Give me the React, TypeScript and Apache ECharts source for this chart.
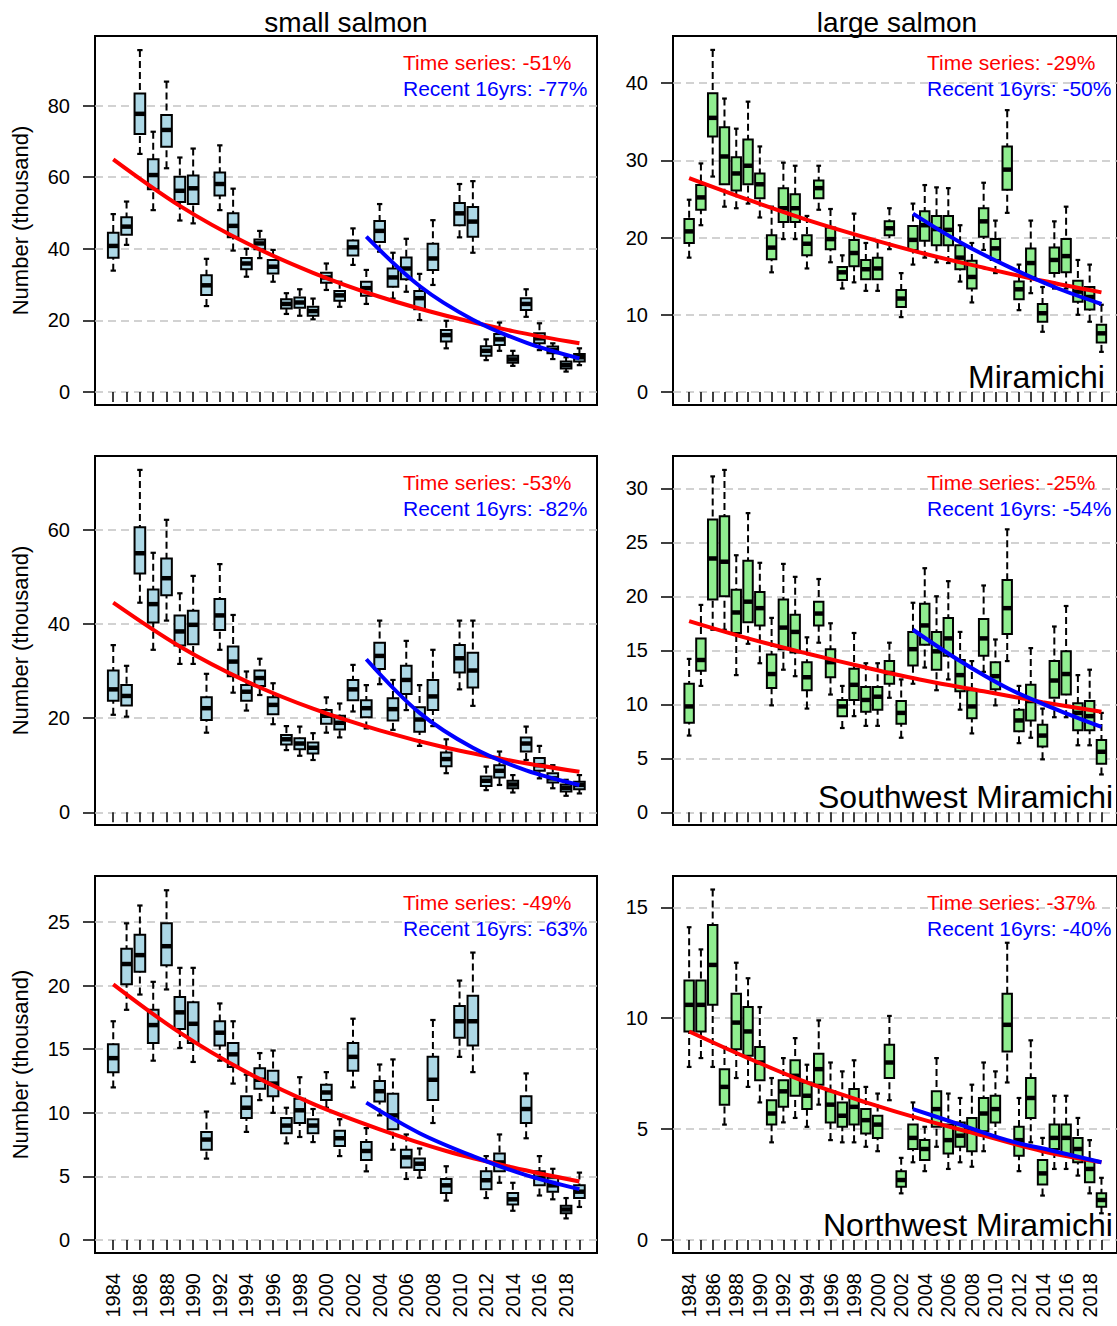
import React, { useEffect, useRef } from "react";
import * as echarts from "echarts";

const FONT = "'Liberation Sans', Arial, Helvetica, sans-serif";

const years = [1984, 1985, 1986, 1987, 1988, 1989, 1990, 1991, 1992, 1993, 1994, 1995, 1996, 1997, 1998, 1999, 2000, 2001, 2002, 2003, 2004, 2005, 2006, 2007, 2008, 2009, 2010, 2011, 2012, 2013, 2014, 2015, 2016, 2017, 2018, 2019];
const yearLabels = [1984, 1986, 1988, 1990, 1992, 1994, 1996, 1998, 2000, 2002, 2004, 2006, 2008, 2010, 2012, 2014, 2016, 2018];

// [lower whisker, Q1, median, Q3, upper whisker] per year
const smallMiramichi = [
  [33.9, 37.5, 40.8, 44.5, 49.7], [41.1, 43.9, 46.2, 48.8, 53.2], [66.5, 72.1, 77.7, 83.4, 95.5], [50.8, 56.6, 60.6, 65.0, 72.7],
  [62.5, 68.5, 73.2, 77.4, 86.7], [47.9, 53.1, 56.2, 60.1, 65.5], [47.1, 52.5, 56.9, 60.5, 68.0], [24.0, 27.1, 29.8, 32.6, 37.2],
  [50.8, 54.9, 58.1, 61.3, 68.9], [39.5, 43.2, 46.4, 49.9, 56.8], [32.2, 34.3, 35.9, 37.4, 40.0], [37.4, 39.9, 41.5, 42.6, 45.0],
  [30.8, 33.1, 35.0, 36.9, 39.7], [21.8, 23.3, 24.6, 25.9, 27.6], [21.3, 23.5, 25.0, 26.4, 28.7], [20.3, 21.3, 22.6, 23.8, 26.1],
  [28.5, 30.5, 32.0, 33.3, 35.9], [23.8, 25.5, 27.0, 28.2, 30.8], [35.5, 38.1, 40.4, 42.3, 45.7], [24.6, 26.9, 29.0, 30.8, 34.1],
  [39.2, 41.9, 45.0, 47.8, 52.5], [26.1, 29.4, 32.0, 34.5, 38.9], [28.0, 31.5, 34.5, 37.6, 42.8], [20.1, 23.1, 26.2, 28.2, 33.0],
  [29.9, 34.1, 37.3, 41.4, 48.0], [12.2, 14.1, 15.9, 17.3, 19.9], [43.2, 46.6, 49.9, 52.8, 58.1], [38.9, 43.4, 47.6, 51.7, 58.9],
  [8.9, 10.1, 11.5, 12.8, 14.7], [11.5, 13.1, 14.7, 16.2, 19.4], [7.3, 8.2, 9.1, 10.1, 11.5], [21.0, 22.9, 24.6, 26.2, 28.7],
  [11.7, 13.6, 15.0, 16.4, 19.2], [9.2, 10.8, 11.7, 12.7, 13.6], [5.7, 6.6, 7.5, 8.5, 9.7], [7.5, 8.5, 9.7, 10.6, 12.2],
];
const largeMiramichi = [
  [17.4, 19.3, 20.8, 22.4, 24.9], [21.6, 23.6, 25.2, 26.8, 29.6], [27.9, 33.1, 35.5, 38.7, 44.3], [24.0, 26.9, 30.5, 34.3, 38.0],
  [23.8, 26.1, 28.3, 30.4, 34.1], [24.4, 26.9, 29.3, 32.7, 37.6], [22.6, 25.1, 26.9, 28.3, 31.8], [15.5, 17.2, 18.7, 20.3, 24.0],
  [19.8, 22.0, 23.8, 26.4, 29.7], [19.8, 22.0, 23.8, 25.6, 29.3], [16.0, 17.7, 19.2, 20.3, 22.8], [23.6, 25.1, 26.4, 27.4, 29.3],
  [16.8, 18.5, 19.8, 21.3, 23.7], [13.4, 14.5, 15.5, 16.2, 17.7], [14.2, 16.3, 18.0, 19.7, 23.1], [13.1, 14.6, 15.9, 17.1, 19.3],
  [13.1, 14.6, 16.0, 17.4, 19.5], [18.5, 20.3, 21.2, 22.1, 23.8], [9.7, 11.0, 12.1, 13.2, 15.4], [16.5, 18.4, 19.7, 21.5, 24.4],
  [17.4, 19.6, 21.6, 23.4, 26.8], [16.8, 19.0, 21.1, 22.8, 26.5], [16.7, 19.0, 21.0, 22.8, 26.4], [14.3, 15.9, 17.4, 19.0, 21.6],
  [11.6, 13.4, 14.9, 17.0, 19.3], [18.4, 20.1, 22.1, 23.8, 27.1], [15.4, 17.1, 18.6, 19.8, 22.2], [23.2, 26.2, 28.8, 31.8, 36.5],
  [10.6, 12.0, 13.3, 14.3, 16.5], [12.8, 14.9, 16.7, 18.6, 22.2], [7.8, 9.1, 10.2, 11.4, 13.6], [13.4, 15.4, 17.1, 18.7, 22.1],
  [13.4, 15.5, 17.6, 19.8, 24.0], [10.0, 11.7, 13.0, 14.4, 17.1], [9.1, 10.7, 12.3, 13.6, 16.5], [5.2, 6.4, 7.6, 8.7, 11.3],
];
const smallSouthwest = [
  [20.7, 23.7, 26.1, 30.1, 35.5], [20.3, 22.7, 24.7, 27.0, 31.1], [44.5, 50.7, 55.0, 60.5, 72.7], [34.5, 40.3, 44.2, 47.3, 55.1],
  [40.7, 46.1, 49.7, 53.9, 62.1], [31.5, 35.4, 38.4, 41.8, 46.5], [31.5, 35.7, 39.8, 42.8, 50.2], [16.9, 19.6, 22.1, 24.4, 29.4],
  [34.5, 38.7, 41.8, 45.3, 52.7], [25.4, 28.9, 32.0, 35.2, 41.9], [21.6, 23.7, 25.6, 27.0, 29.9], [24.9, 26.8, 28.5, 30.1, 32.6],
  [18.7, 20.8, 22.8, 24.4, 27.4], [13.2, 14.4, 15.5, 16.4, 18.3], [12.0, 13.4, 14.6, 15.7, 18.2], [11.1, 12.5, 13.7, 14.8, 16.8],
  [16.9, 18.8, 20.5, 21.7, 24.4], [15.9, 17.6, 19.0, 20.5, 23.1], [21.4, 23.8, 26.1, 28.1, 31.3], [17.8, 20.2, 22.1, 23.8, 27.0],
  [27.2, 30.4, 33.2, 36.0, 40.7], [17.5, 19.5, 21.9, 24.2, 28.1], [21.7, 25.1, 28.1, 31.1, 36.4], [14.1, 17.1, 19.7, 22.3, 27.0],
  [18.3, 21.7, 24.6, 28.1, 34.5], [8.3, 9.8, 11.3, 12.7, 15.5], [26.1, 29.7, 32.7, 35.5, 40.7], [22.6, 26.5, 30.1, 33.9, 40.7],
  [4.7, 5.6, 6.7, 7.6, 9.7], [5.8, 7.4, 8.8, 10.0, 12.9], [4.2, 5.1, 5.9, 6.7, 7.9], [11.1, 12.9, 14.6, 15.9, 18.2],
  [7.2, 8.8, 10.0, 11.5, 14.1], [5.1, 6.3, 7.2, 8.3, 10.0], [3.5, 4.4, 5.2, 5.9, 6.9], [4.0, 4.9, 5.8, 6.5, 7.9],
];
const largeSouthwest = [
  [7.1, 8.3, 9.8, 11.9, 14.2], [11.7, 13.1, 14.1, 16.1, 19.2], [16.9, 19.7, 23.5, 27.1, 31.1], [16.9, 20.0, 23.2, 27.4, 31.7],
  [12.7, 16.6, 18.5, 20.6, 23.8], [15.6, 17.6, 19.5, 23.3, 27.7], [13.8, 17.3, 18.9, 20.4, 23.1], [9.9, 11.5, 12.8, 14.6, 18.0],
  [13.2, 15.1, 17.1, 19.7, 23.0], [12.6, 14.8, 16.7, 18.3, 21.8], [9.6, 11.3, 12.5, 13.9, 16.2], [15.7, 17.3, 18.4, 19.5, 21.6],
  [10.9, 12.5, 13.9, 15.1, 17.5], [7.8, 8.9, 9.8, 10.4, 11.7], [8.9, 10.4, 11.8, 13.3, 16.6], [8.0, 9.3, 10.4, 11.6, 13.8],
  [8.0, 9.5, 10.7, 11.6, 13.8], [10.6, 11.9, 12.9, 14.0, 15.7], [6.9, 8.2, 9.2, 10.3, 12.3], [11.9, 13.6, 15.1, 16.7, 19.4],
  [13.4, 15.5, 17.3, 19.3, 22.6], [11.3, 13.2, 14.9, 16.7, 20.0], [12.3, 14.5, 16.1, 18.0, 21.4], [9.5, 11.2, 12.7, 14.1, 16.7],
  [7.3, 8.7, 9.8, 11.3, 14.0], [13.0, 14.5, 16.1, 17.9, 21.0], [9.9, 11.4, 12.6, 13.9, 16.0], [14.0, 16.5, 18.9, 21.5, 26.2],
  [6.4, 7.5, 8.5, 9.5, 11.7], [6.9, 8.5, 10.3, 11.8, 15.2], [4.9, 6.1, 7.1, 8.1, 9.6], [8.8, 10.6, 12.2, 14.0, 17.2],
  [8.8, 10.9, 12.8, 14.9, 19.1], [6.2, 7.6, 9.2, 10.1, 12.7], [6.2, 7.6, 8.9, 10.3, 13.2], [3.5, 4.5, 5.6, 6.7, 9.2],
];
const smallNorthwest = [
  [12.0, 13.2, 14.3, 15.4, 17.2], [18.1, 20.1, 21.7, 22.9, 24.9], [19.3, 21.1, 22.4, 24.0, 26.3], [14.1, 15.5, 16.9, 18.1, 20.3],
  [19.7, 21.6, 23.1, 24.9, 27.5], [15.1, 16.6, 17.9, 19.1, 21.4], [14.0, 15.5, 17.0, 18.7, 21.4], [6.4, 7.1, 7.9, 8.5, 10.1],
  [14.1, 15.3, 16.3, 17.2, 18.6], [12.3, 13.6, 14.6, 15.5, 17.2], [8.5, 9.6, 10.4, 11.3, 13.0], [11.0, 11.9, 12.6, 13.5, 14.7],
  [10.0, 11.3, 12.3, 13.3, 14.9], [7.6, 8.4, 9.0, 9.6, 10.4], [8.1, 9.2, 10.2, 11.1, 12.8], [7.7, 8.4, 9.0, 9.5, 10.3],
  [10.4, 11.0, 11.6, 12.2, 13.2], [6.6, 7.4, 8.0, 8.6, 9.5], [12.0, 13.3, 14.4, 15.5, 17.4], [5.4, 6.3, 7.0, 7.7, 8.8],
  [9.8, 10.9, 11.7, 12.5, 13.8], [7.1, 8.7, 9.8, 11.5, 14.2], [4.8, 5.7, 6.5, 7.1, 8.3], [4.9, 5.5, 6.0, 6.4, 7.2],
  [9.2, 11.0, 12.6, 14.4, 17.3], [3.1, 3.7, 4.3, 4.8, 5.8], [14.4, 15.9, 17.2, 18.4, 20.4], [13.2, 15.3, 17.2, 19.2, 22.6],
  [3.3, 4.0, 4.7, 5.4, 6.6], [4.5, 5.4, 6.1, 6.8, 8.3], [2.3, 2.8, 3.2, 3.7, 4.5], [8.0, 9.2, 10.3, 11.3, 13.1],
  [3.5, 4.3, 4.9, 5.4, 6.6], [3.2, 3.8, 4.3, 4.9, 5.6], [1.7, 2.1, 2.4, 2.7, 3.3], [2.6, 3.3, 3.8, 4.3, 5.3],
];
const largeNorthwest = [
  [7.8, 9.4, 10.6, 11.7, 14.1], [8.2, 9.4, 10.6, 11.7, 13.1], [7.8, 10.6, 12.4, 14.2, 15.8], [5.2, 6.1, 6.9, 7.7, 8.7],
  [7.3, 8.6, 9.8, 11.1, 12.5], [6.9, 8.3, 9.4, 10.5, 11.8], [6.2, 7.2, 8.0, 8.7, 10.5], [4.4, 5.2, 5.7, 6.3, 7.3],
  [5.3, 6.0, 6.7, 7.2, 8.2], [5.5, 6.5, 7.4, 8.1, 9.1], [5.1, 5.9, 6.5, 7.1, 7.9], [6.1, 7.0, 7.7, 8.4, 9.9],
  [4.5, 5.3, 6.1, 6.7, 8.0], [4.4, 5.1, 5.6, 6.2, 7.6], [4.4, 5.2, 6.0, 6.8, 8.1], [4.2, 4.8, 5.4, 5.9, 6.9],
  [4.0, 4.6, 5.2, 5.6, 6.6], [6.3, 7.3, 8.0, 8.8, 10.1], [2.1, 2.4, 2.7, 3.1, 3.7], [3.5, 4.1, 4.6, 5.2, 6.2],
  [3.1, 3.6, 4.1, 4.5, 5.1], [4.2, 5.1, 5.9, 6.7, 8.2], [3.2, 3.9, 4.5, 5.2, 6.6], [3.5, 4.2, 4.7, 5.3, 6.4],
  [3.3, 4.0, 4.9, 5.5, 7.0], [4.0, 4.9, 5.7, 6.4, 8.0], [4.6, 5.3, 5.9, 6.5, 7.6], [7.1, 8.5, 9.7, 11.1, 13.4],
  [3.1, 3.8, 4.5, 5.1, 6.4], [4.4, 5.5, 6.4, 7.3, 9.0], [2.0, 2.5, 3.0, 3.6, 4.6], [3.2, 4.1, 4.6, 5.2, 6.5],
  [3.2, 3.8, 4.6, 5.2, 6.5], [2.9, 3.5, 4.1, 4.6, 5.5], [2.1, 2.6, 3.2, 3.6, 4.5], [1.2, 1.5, 1.8, 2.1, 2.8],
];

// fitted trend curves
const trendYears = [1984, 1989, 1994, 1999, 2004, 2009, 2014, 2019];
const recentYears = [2003, 2007, 2011, 2015, 2019];
const smallMiramichiTrend = [65.0, 52.0, 41.6, 33.3, 26.6, 21.3, 17.0, 13.6];
const smallMiramichiRecent = [43.4, 29.6, 20.2, 13.8, 9.4];
const largeMiramichiTrend = [27.7, 24.9, 22.3, 20.0, 17.9, 16.1, 14.4, 12.9];
const largeMiramichiRecent = [23.1, 19.4, 16.3, 13.6, 11.4];
const smallSouthwestTrend = [44.5, 35.2, 27.8, 22.0, 17.4, 13.7, 10.9, 8.6];
const smallSouthwestRecent = [32.5, 21.1, 13.7, 8.9, 5.8];
const largeSouthwestTrend = [17.7, 16.1, 14.7, 13.4, 12.2, 11.2, 10.2, 9.3];
const largeSouthwestRecent = [16.9, 14.0, 11.5, 9.6, 7.9];
const smallNorthwestTrend = [20.1, 16.3, 13.2, 10.7, 8.7, 7.0, 5.7, 4.6];
const smallNorthwestRecent = [10.8, 8.4, 6.6, 5.1, 4.0];
const largeNorthwestTrend = [9.4, 8.2, 7.1, 6.2, 5.4, 4.7, 4.0, 3.5];
const largeNorthwestRecent = [5.9, 5.2, 4.5, 4.0, 3.5];

const yTicks1 = [0, 20, 40, 60, 80];
const yTicks2 = [0, 10, 20, 30, 40];
const yTicks3 = [0, 20, 40, 60];
const yTicks4 = [0, 5, 10, 15, 20, 25, 30];
const yTicks5 = [0, 5, 10, 15, 20, 25];
const yTicks6 = [0, 5, 10, 15];

const timeSeriesPct = ["-51%", "-29%", "-53%", "-25%", "-49%", "-37%"];
const recentPct = ["-77%", "-50%", "-82%", "-54%", "-63%", "-40%"];
const riverNames = ["Miramichi", "Southwest Miramichi", "Northwest Miramichi"];
const sizeTitles = ["small salmon", "large salmon"];

const BLUE_FILL = "#ADD8E6";
const GREEN_FILL = "#90EE90";

const panels = [
  { boxes: smallMiramichi, trend: smallMiramichiTrend, recent: smallMiramichiRecent, ticks: yTicks1, min: -3.63, max: 99.44, fill: BLUE_FILL, col: 0, row: 0 },
  { boxes: largeMiramichi, trend: largeMiramichiTrend, recent: largeMiramichiRecent, ticks: yTicks2, min: -1.68, max: 46.1, fill: GREEN_FILL, col: 1, row: 0 },
  { boxes: smallSouthwest, trend: smallSouthwestTrend, recent: smallSouthwestRecent, ticks: yTicks3, min: -2.7, max: 75.65, fill: BLUE_FILL, col: 0, row: 1 },
  { boxes: largeSouthwest, trend: largeSouthwestTrend, recent: largeSouthwestRecent, ticks: yTicks4, min: -1.18, max: 32.99, fill: GREEN_FILL, col: 1, row: 1 },
  { boxes: smallNorthwest, trend: smallNorthwestTrend, recent: smallNorthwestRecent, ticks: yTicks5, min: -1.02, max: 28.62, fill: BLUE_FILL, col: 0, row: 2 },
  { boxes: largeNorthwest, trend: largeNorthwestTrend, recent: largeNorthwestRecent, ticks: yTicks6, min: -0.59, max: 16.41, fill: GREEN_FILL, col: 1, row: 2 },
];

const COL_LEFT = [95, 673];
const COL_WIDTH = [502, 448];
const ROW_TOP = [36, 456, 876];
const ROW_HEIGHT = [369, 369, 377];
const X_MIN = 1982.63;
const X_MAX = 2020.32;

const makeRender = (fill: string) => (params: any, api: any) => {
  const x = api.value(0);
  const lo = api.coord([x, api.value(1)]);
  const q1 = api.coord([x, api.value(2)]);
  const md = api.coord([x, api.value(3)]);
  const q3 = api.coord([x, api.value(4)]);
  const hi = api.coord([x, api.value(5)]);
  const bw = api.size([0.8, 0], [x, 0])[0];
  const cx = lo[0];
  const sw = bw * 0.5;
  const whisk = { stroke: "#000", lineWidth: 2, lineDash: [7, 4] };
  const staple = { stroke: "#000", lineWidth: 2.2 };
  return {
    type: "group",
    children: [
      { type: "line", shape: { x1: cx, y1: hi[1], x2: cx, y2: q3[1] }, style: whisk },
      { type: "line", shape: { x1: cx, y1: lo[1], x2: cx, y2: q1[1] }, style: whisk },
      { type: "line", shape: { x1: cx - sw / 2, y1: hi[1], x2: cx + sw / 2, y2: hi[1] }, style: staple },
      { type: "line", shape: { x1: cx - sw / 2, y1: lo[1], x2: cx + sw / 2, y2: lo[1] }, style: staple },
      { type: "rect", shape: { x: cx - bw / 2, y: q3[1], width: bw, height: q1[1] - q3[1] }, style: { fill, stroke: "#000", lineWidth: 2 } },
      { type: "line", shape: { x1: cx - bw / 2, y1: md[1], x2: cx + bw / 2, y2: md[1] }, style: { stroke: "#000", lineWidth: 4.5 } },
    ],
  };
};

function buildOption() {
  const grid: any[] = [];
  const xAxis: any[] = [];
  const yAxis: any[] = [];
  const series: any[] = [];
  const graphic: any[] = [];

  panels.forEach((p, i) => {
    const left = COL_LEFT[p.col];
    const top = ROW_TOP[p.row];
    grid.push({
      left, top, width: COL_WIDTH[p.col], height: ROW_HEIGHT[p.row],
      show: true, borderColor: "#000", borderWidth: 2, backgroundColor: "transparent", containLabel: false,
    });
    const lastRow = p.row === 2;
    xAxis.push({
      type: "value", gridIndex: i, min: X_MIN, max: X_MAX, offset: 3,
      axisLine: { show: false },
      axisTick: { show: true, customValues: years, length: 10, lineStyle: { color: "#000", width: 1.5 } },
      axisLabel: lastRow
        ? { show: true, customValues: yearLabels, rotate: 90, fontSize: 20, color: "#000", fontFamily: FONT, margin: 17, formatter: (v: number) => String(v) }
        : { show: false },
      splitLine: { show: false },
    });
    yAxis.push({
      type: "value", gridIndex: i, min: p.min, max: p.max,
      axisLine: { show: false },
      axisTick: { show: true, customValues: p.ticks, length: 12, lineStyle: { color: "#000", width: 1.5 } },
      axisLabel: { show: true, customValues: p.ticks, fontSize: 20, color: "#000", fontFamily: FONT, margin: 25, formatter: (v: number) => String(v) },
      splitLine: { show: true, lineStyle: { color: "#C4C4C4", width: 1.6, type: [8, 5] } },
    });
    series.push({
      type: "custom", xAxisIndex: i, yAxisIndex: i,
      renderItem: makeRender(p.fill),
      encode: { x: 0, y: [1, 2, 3, 4, 5] },
      data: years.map((yr, k) => [yr, ...p.boxes[k]]),
      z: 2,
    });
    series.push({
      type: "line", xAxisIndex: i, yAxisIndex: i, smooth: 0.35, smoothMonotone: null,
      showSymbol: false, symbol: "none", lineStyle: { color: "#FF0000", width: 4 },
      data: trendYears.map((yr, k) => [yr, p.trend[k]]), z: 5,
    });
    series.push({
      type: "line", xAxisIndex: i, yAxisIndex: i, smooth: 0.35, smoothMonotone: null,
      showSymbol: false, symbol: "none", lineStyle: { color: "#0000FF", width: 4 },
      data: recentYears.map((yr, k) => [yr, p.recent[k]]), z: 6,
    });

    const tx = p.col === 0 ? 403 : 927;
    graphic.push({
      type: "text", x: tx, y: top + 26, z: 100,
      style: { text: "Time series: " + timeSeriesPct[i], fill: "#FF0000", font: `21px ${FONT}`, textAlign: "left", textVerticalAlign: "middle" },
    });
    graphic.push({
      type: "text", x: tx, y: top + 52, z: 100,
      style: { text: "Recent 16yrs: " + recentPct[i], fill: "#0000FF", font: `21px ${FONT}`, textAlign: "left", textVerticalAlign: "middle" },
    });
    if (p.col === 0) {
      graphic.push({
        type: "text", x: 20, y: top + ROW_HEIGHT[p.row] / 2, rotation: Math.PI / 2, z: 100,
        style: { text: "Number (thousand)", fill: "#000", font: `22px ${FONT}`, textAlign: "center", textVerticalAlign: "middle" },
      });
    }
  });

  const riverX = [968, 818, 823];
  const riverY = [377, 797, 1225];
  riverNames.forEach((name, r) => {
    graphic.push({
      type: "text", x: riverX[r], y: riverY[r], z: 100,
      style: { text: name, fill: "#000", font: `32px ${FONT}`, textAlign: "left", textVerticalAlign: "middle" },
    });
  });
  graphic.push({
    type: "text", x: 346, y: 22, z: 100,
    style: { text: sizeTitles[0], fill: "#000", font: `28px ${FONT}`, textAlign: "center", textVerticalAlign: "middle" },
  });
  graphic.push({
    type: "text", x: 897, y: 22, z: 100,
    style: { text: sizeTitles[1], fill: "#000", font: `28px ${FONT}`, textAlign: "center", textVerticalAlign: "middle" },
  });

  return { animation: false, backgroundColor: "#fff", textStyle: { fontFamily: FONT }, grid, xAxis, yAxis, series, graphic };
}

export default function App() {
  const ref = useRef<HTMLDivElement>(null);
  useEffect(() => {
    if (!ref.current) return;
    const chart = echarts.init(ref.current, undefined, { renderer: "svg" });
    chart.setOption(buildOption() as any);
    return () => chart.dispose();
  }, []);
  return <div ref={ref} style={{ position: "absolute", left: 0, top: 0, width: 1117, height: 1326 }} />;
}
